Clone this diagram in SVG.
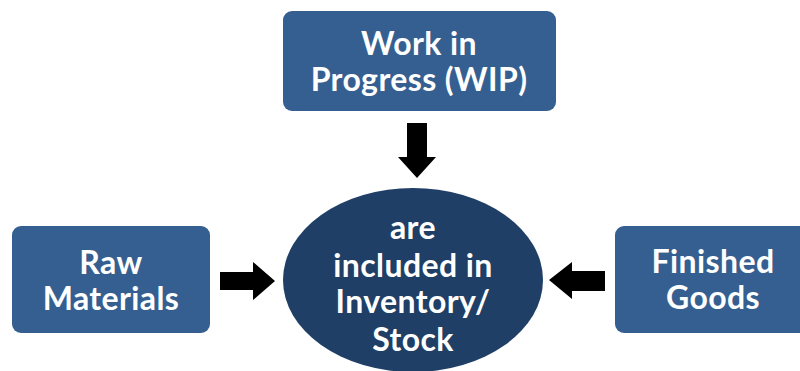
<svg xmlns="http://www.w3.org/2000/svg" width="800" height="371" viewBox="0 0 800 371">
<style>
.box{fill:#365f91;}
.ell{fill:#1f3f66;}
.t{font-family:Lato,"Open Sans",sans-serif;font-weight:bold;font-size:32px;letter-spacing:0.4px;fill:#ffffff;text-anchor:middle;}
.arr{fill:#000000;}
</style>
<rect width="800" height="371" fill="#ffffff"/>
<g id="wip">
<rect class="box" x="283" y="11" width="273" height="100" rx="9"/>
<text class="t" x="419" y="55">Work in</text>
<text class="t" x="419" y="91">Progress (WIP)</text>
</g>
<g id="raw">
<rect class="box" x="12" y="226" width="198" height="107" rx="9"/>
<text class="t" x="111" y="274">Raw</text>
<text class="t" x="111" y="310">Materials</text>
</g>
<g id="finished">
<rect class="box" x="615" y="226" width="200" height="107" rx="9"/>
<text class="t" x="713" y="273">Finished</text>
<text class="t" x="713" y="309">Goods</text>
</g>
<g id="inventory">
<ellipse class="ell" cx="413" cy="280" rx="130" ry="92"/>
<text class="t" x="413" y="239">are</text>
<text class="t" x="413" y="277">included in</text>
<text class="t" x="413" y="313">Inventory/</text>
<text class="t" x="413" y="351">Stock</text>
</g>
<g id="connectors">
<polygon class="arr" points="407,123 427,123 427,157 436,157 417,178 398,157 407,157"/>
<polygon class="arr" points="220,272 253,272 253,262 275,281 253,300 253,290 220,290"/>
<polygon class="arr" points="605,271 572,271 572,262 549,280 572,299 572,291 605,291"/>
</g>
</svg>
